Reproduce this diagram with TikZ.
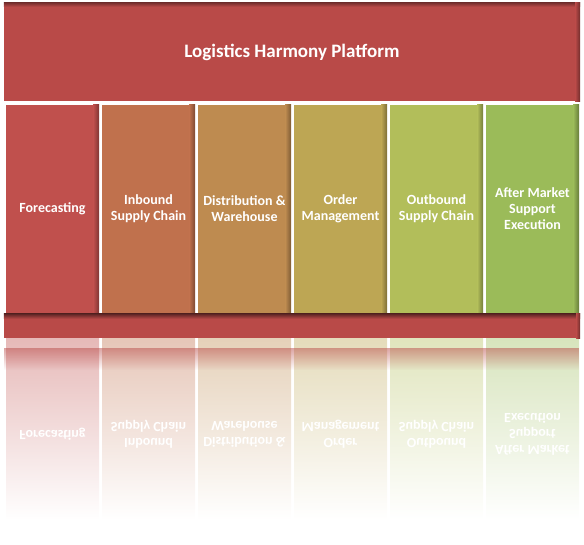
\documentclass[tikz,border=0pt]{standalone}
\usepackage{fontspec}
\setmainfont{Carlito}
\usetikzlibrary{fadings}

\definecolor{barred}{RGB}{185,74,72}
\definecolor{colA}{RGB}{192,80,77}
\definecolor{colB}{RGB}{192,113,77}
\definecolor{colC}{RGB}{190,139,80}
\definecolor{colD}{RGB}{189,166,84}
\definecolor{colE}{RGB}{178,190,90}
\definecolor{colF}{RGB}{155,187,89}
\tikzfading[name=fadedown, top color=transparent!0, bottom color=transparent!100]

\begin{document}
\begin{tikzpicture}[x=1pt,y=-1pt,
    colbox/.style={minimum width=93pt, minimum height=208pt, inner sep=0pt,
        text=white, align=center, font=\fontsize{14}{16}\selectfont\bfseries},
    mirror/.style={yscale=-1, text=white, align=center,
        font=\fontsize{14}{16}\selectfont\bfseries}]
    \useasboundingbox (0,0) rectangle (584,544);

    % reflection below the base
    \shade[top color=colA!40, middle color=colA!28, bottom color=white] (6,338) rectangle (99,520);
    \shade[top color=colB!40, middle color=colB!28, bottom color=white] (102,338) rectangle (195,520);
    \shade[top color=colC!40, middle color=colC!28, bottom color=white] (198,338) rectangle (291,520);
    \shade[top color=colD!40, middle color=colD!28, bottom color=white] (294,338) rectangle (387,520);
    \shade[top color=colE!40, middle color=colE!28, bottom color=white] (390,338) rectangle (483,520);
    \shade[top color=colF!40, middle color=colF!28, bottom color=white] (486,338) rectangle (579,520);
    \fill[barred, path fading=fadedown, fill opacity=.5] (4,348) rectangle (580,370);

    \node[mirror] (mA) at (52.5,434) {Forecasting};
    \node[mirror] (mB) at (148.5,434) {Inbound\\Supply Chain};
    \node[mirror] (mC) at (244.5,434) {Distribution \&\\Warehouse};
    \node[mirror] (mD) at (340.5,434) {Order\\Management};
    \node[mirror] (mE) at (436.5,434) {Outbound\\Supply Chain};
    \node[mirror] (mF) at (532.5,434) {After Market\\Support\\Execution};

    % platform bar
    \node[fill=barred, minimum width=576pt, minimum height=98pt, inner sep=0pt,
        text=white, font=\fontsize{19}{22}\selectfont\bfseries] (plat) at (292,52) {Logistics Harmony Platform};
    \shade[top color=barred!65!black, bottom color=barred] (plat.north west) rectangle ([yshift=-4pt]plat.north east);
    \shade[left color=barred, right color=barred!60!black] ([xshift=-5pt]plat.north east) rectangle (plat.south east);

    % columns
    \node[colbox, fill=colA] (fc) at (52.5,209) {Forecasting};
    \node[colbox, fill=colB] (ib) at (148.5,209) {Inbound\\Supply Chain};
    \node[colbox, fill=colC] (dw) at (244.5,209) {Distribution \&\\Warehouse};
    \node[colbox, fill=colD] (om) at (340.5,209) {Order\\Management};
    \node[colbox, fill=colE] (ob) at (436.5,209) {Outbound\\Supply Chain};
    \node[colbox, fill=colF] (am) at (532.5,209) {After Market\\Support\\Execution};

    \shade[left color=colA, right color=colA!65!black] ([xshift=-6pt]fc.north east) rectangle (fc.south east);
    \shade[left color=colB, right color=colB!65!black] ([xshift=-6pt]ib.north east) rectangle (ib.south east);
    \shade[left color=colC, right color=colC!65!black] ([xshift=-6pt]dw.north east) rectangle (dw.south east);
    \shade[left color=colD, right color=colD!65!black] ([xshift=-6pt]om.north east) rectangle (om.south east);
    \shade[left color=colE, right color=colE!65!black] ([xshift=-6pt]ob.north east) rectangle (ob.south east);
    \shade[left color=colF, right color=colF!65!black] ([xshift=-6pt]am.north east) rectangle (am.south east);

    % base bar
    \node[fill=barred, minimum width=576pt, minimum height=24pt, inner sep=0pt] (base) at (292,326) {};
    \shade[top color=barred!50!black, bottom color=barred] (base.north west) rectangle ([yshift=-5pt]base.north east);
    \shade[left color=barred, right color=barred!60!black] ([xshift=-4pt]base.north east) rectangle (base.south east);
\end{tikzpicture}
\end{document}
